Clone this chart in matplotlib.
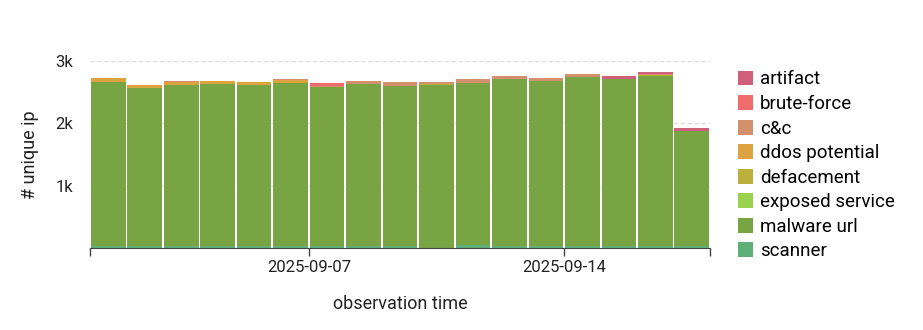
import numpy as np
import pandas as pd
import matplotlib
matplotlib.use("Agg")
import matplotlib.pyplot as plt
from matplotlib.patches import Patch

# one bar per day, 2025-09-01 .. 2025-09-17
days = pd.date_range("2025-09-01", "2025-09-17", freq="D")

categories = ["artifact", "brute-force", "c&c", "ddos potential", "defacement",
              "exposed service", "malware url", "scanner"]
colors = ["#cf5f7a", "#ef6b6c", "#d48f6c", "#dea341", "#bcb03d",
          "#98d24f", "#79a444", "#5fb078"]

scanner = [30, 30, 30, 30, 30, 30, 30, 30, 30, 0, 45, 30, 30, 30, 30, 30, 30]
malware_url = [2638, 2542, 2585, 2601, 2585, 2622, 2558, 2601, 2569, 2615,
               2607, 2681, 2649, 2713, 2681, 2729, 1852]
exposed_service = [0] * 17
defacement = [0, 0, 0, 0, 0, 0, 0, 0, 0, 8, 0, 0, 0, 0, 0, 16, 0]
ddos_potential = [59, 43, 43, 48, 48, 43, 0, 0, 0, 0, 0, 0, 0, 0, 0, 0, 0]
cc = [0, 0, 16, 0, 0, 16, 11, 48, 64, 48, 59, 48, 48, 48, 0, 11, 0]
brute_force = [0, 0, 0, 0, 0, 0, 43, 0, 0, 0, 0, 0, 0, 0, 0, 0, 0]
artifact = [0, 0, 0, 0, 0, 0, 0, 0, 0, 0, 0, 0, 0, 0, 48, 38, 48]

# stacking order bottom -> top
stack = [scanner, malware_url, exposed_service, defacement,
         ddos_potential, cc, brute_force, artifact]
stack_colors = colors[::-1]

plt.rcParams['font.family'] = ['Roboto', 'DejaVu Sans']

fig = plt.figure(figsize=(9.23, 3.3), dpi=100)
ax = fig.add_axes([90 / 923, 82 / 330, 620 / 923, 187 / 330])

gap = 0.05  # fraction of a day left white between bars
bottom = np.zeros(len(days))
for vals, col in zip(stack, stack_colors):
    vals = np.array(vals, dtype=float)
    ax.bar(days + pd.Timedelta(days=gap / 2), vals, width=1 - gap, align="edge",
           bottom=bottom, color=col, edgecolor="none", zorder=2)
    bottom += vals

ax.set_xlim(pd.Timestamp("2025-09-01"), pd.Timestamp("2025-09-18"))
ax.set_ylim(0, 3000)

ax.set_yticks([1000, 2000, 3000])
ax.set_yticklabels(["1k", "2k", "3k"])
ax.yaxis.grid(True, color="#dddddd", linestyle=(0, (3, 2)), linewidth=1, zorder=0)
ax.tick_params(axis="y", length=0, pad=12, labelsize=12, labelcolor="#222222")

xt = [pd.Timestamp(d) for d in ["2025-09-01", "2025-09-07", "2025-09-14", "2025-09-18"]]
ax.set_xticks(xt)
ax.set_xticklabels(["", "2025-09-07", "2025-09-14", ""])
ax.tick_params(axis="x", length=6, width=1, color="#444444", labelsize=12,
               labelcolor="#222222", pad=3)

for s in ["top", "right", "left"]:
    ax.spines[s].set_visible(False)
ax.spines["bottom"].set_color("#444444")
ax.set_axisbelow(True)

ax.set_xlabel("observation time", fontsize=13, labelpad=14, color="#222222")
ax.set_ylabel("# unique ip", fontsize=13, labelpad=12, color="#222222")

handles = [Patch(facecolor=c, edgecolor="none") for c in colors]
fig.legend(handles, categories, loc="upper left", bbox_to_anchor=(730 / 923, 1 - 63 / 330),
           frameon=False, fontsize=13.5, handlelength=0.85, handleheight=0.85,
           handletextpad=0.35, labelspacing=0.35, borderaxespad=0)

fig.savefig("out.png", dpi=100)
